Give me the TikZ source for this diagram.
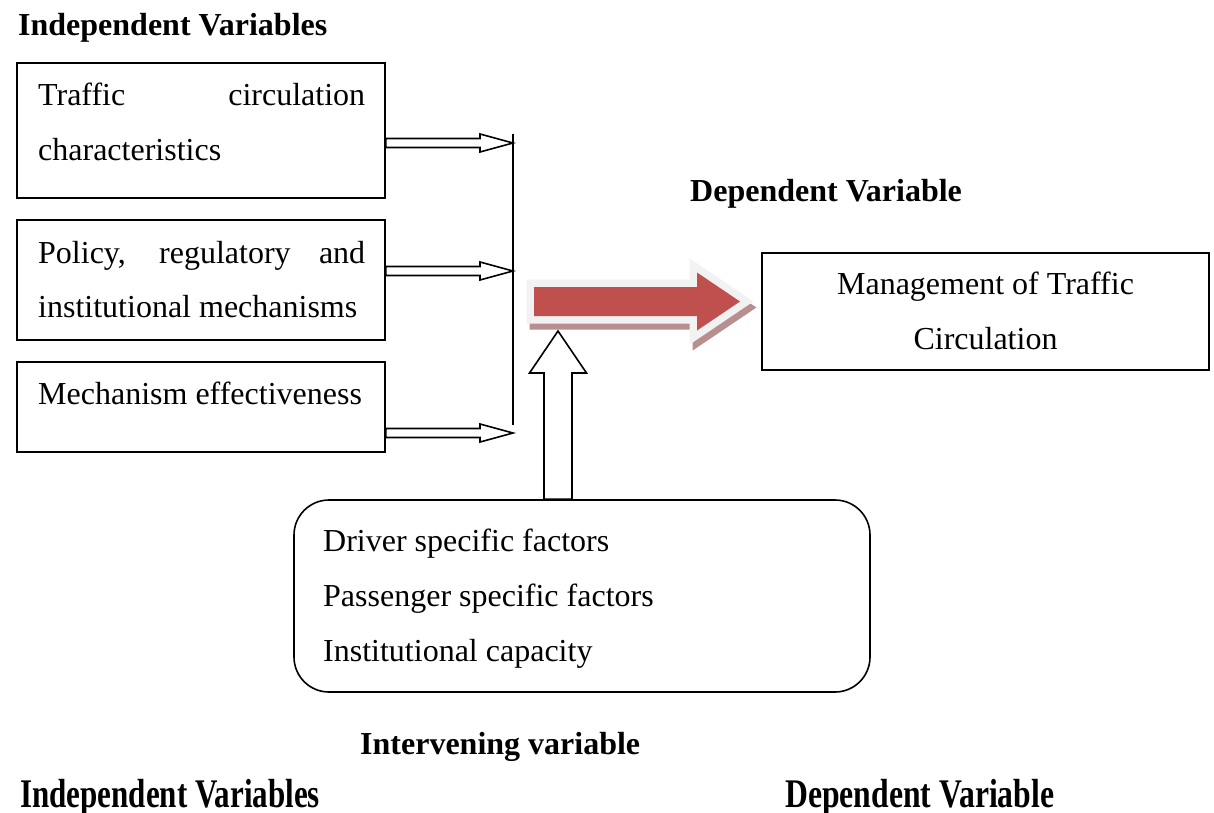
\documentclass[tikz,border=0pt]{standalone}
\usepackage{fontspec}
\setmainfont{Liberation Serif}
\usepackage{graphicx}
\usetikzlibrary{calc}
\definecolor{arrowred}{RGB}{192,80,77}
\definecolor{glowcol}{RGB}{242,242,242}
\definecolor{shadowcol}{RGB}{185,142,142}
% hollow block arrow pointing right, from #1 to #2 (same height)
\newcommand\hollowright[2]{%
  \draw[hollow] ($(#1)+(0,-4.5)$) -- ($(#2)+(-33,-4.5)$) -- ($(#2)+(-33,-9)$)
    -- (#2) -- ($(#2)+(-33,9)$) -- ($(#2)+(-33,4.5)$) -- ($(#1)+(0,4.5)$) -- cycle;}
\begin{document}
\begin{tikzpicture}[x=1pt,y=-1pt,
  every node/.style={font=\fontsize{32}{38}\selectfont, inner sep=0pt},
  box/.style={draw, line width=1.6pt},
  txt/.style={anchor=base west},
  head/.style={anchor=base west, font=\fontsize{32}{38}\selectfont\bfseries},
  hollow/.style={draw, fill=white, line width=1.6pt, line join=miter},
  redshape/.style={insert path={(534,287) -- (697,287) -- (697,272.5) -- (740,301.5)
    -- (697,330.5) -- (697,316) -- (534,316) -- cycle}}]
\useasboundingbox (0,0) rectangle (1214,812);

% headings
\node[head] (hInd) at (18,35) {Independent Variables};
\node[head] (hDep) at (690,201) {Dependent Variable};
\node[head] (hInt) at (360,754) {Intervening variable};
\node[head] (hIndB) at (20,807) {\scalebox{0.97}[1.27]{Independent Variables}};
\node[head] (hDepB) at (785,807) {\scalebox{0.99}[1.27]{Dependent Variable}};

% independent variable boxes
\node[box, minimum width=368pt, minimum height=135pt] (b1) at (201,130.5) {};
\node[box, minimum width=368pt, minimum height=120pt] (b2) at (201,280) {};
\node[box, minimum width=368pt, minimum height=90pt]  (b3) at (201,407) {};
\node[txt] (b1a) at (38,105) {\makebox[327pt][s]{Traffic circulation}};
\node[txt] (b1b) at (38,160) {characteristics};
\node[txt] (b2a) at (38,263) {\makebox[327pt][s]{Policy, regulatory and}};
\node[txt] (b2b) at (38,317) {institutional mechanisms};
\node[txt] (b3a) at (38,404) {Mechanism effectiveness};

% collecting bar and arrows into it
\coordinate (barTop) at (513,134);
\coordinate (barBot) at (513,425);
\draw[line width=1.6pt] (barTop) -- (barBot);
\coordinate (t1) at (513,143);
\coordinate (t2) at (513,271);
\coordinate (t3) at (513,433);
\coordinate (s1) at (b1.east |- t1);
\coordinate (s2) at (b2.east |- t2);
\coordinate (s3) at (b3.east |- t3);
\hollowright{s1}{t1}
\hollowright{s2}{t2}
\hollowright{s3}{t3}

% dependent variable box
\node[box, minimum width=447pt, minimum height=117pt] (dep) at (985.5,311.5) {};
\node[anchor=base] (depa) at (985.5,294) {Management of Traffic};
\node[anchor=base] (depb) at (985.5,349) {Circulation};

% intervening variable box
\node[box, rounded corners=35pt, minimum width=576pt, minimum height=192pt] (iv) at (582,596) {};
\node[txt] (iva) at (323,551) {Driver specific factors};
\node[txt] (ivb) at (323,606) {Passenger specific factors};
\node[txt] (ivc) at (323,661) {Institutional capacity};

% upward hollow arrow from the intervening box
\coordinate (upTip) at (558,331);
\coordinate (upBase) at (iv.north -| upTip);
\draw[hollow] ($(upBase)+(-14,0)$) -- ($(upTip)+(-14,42)$) -- ($(upTip)+(-28.5,42)$)
  -- (upTip) -- ($(upTip)+(28.5,42)$) -- ($(upTip)+(14,42)$) -- ($(upBase)+(14,0)$) -- cycle;

% main red block arrow with border and shadow
\draw[draw=shadowcol, fill=shadowcol, line width=15pt, line join=miter, shift={(3,6)}, redshape];
\draw[draw=glowcol, fill=glowcol, line width=15pt, line join=miter, redshape];
\fill[arrowred, redshape];
\end{tikzpicture}
\end{document}
